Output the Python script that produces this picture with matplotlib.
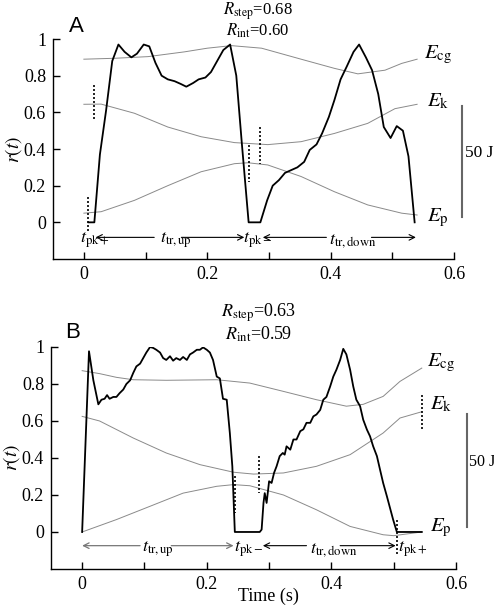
import matplotlib
matplotlib.use("Agg")
import matplotlib.pyplot as plt
from matplotlib.lines import Line2D

plt.rcParams['font.family'] = ['Liberation Serif', 'DejaVu Serif']
plt.rcParams['mathtext.fontset'] = 'stix'

# ---- panel A data ----
tA = [0.0076, 0.017, 0.026, 0.036, 0.046, 0.056, 0.066, 0.077, 0.086, 0.097, 0.106,
      0.116, 0.126, 0.136, 0.147, 0.157, 0.166, 0.177, 0.186, 0.197, 0.206, 0.216,
      0.226, 0.237, 0.247, 0.256, 0.267, 0.286, 0.297, 0.306, 0.316, 0.326, 0.336,
      0.346, 0.357, 0.366, 0.377, 0.386, 0.397, 0.406, 0.416, 0.426, 0.437, 0.446,
      0.457, 0.467, 0.477, 0.486, 0.497, 0.507, 0.517, 0.526, 0.536]
rA = [0, 0, 0.37, 0.61, 0.88, 0.97, 0.93, 0.90, 0.92, 0.97, 0.96,
      0.87, 0.80, 0.78, 0.77, 0.755, 0.74, 0.76, 0.78, 0.79, 0.82, 0.88,
      0.94, 0.97, 0.80, 0.43, 0, 0, 0.12, 0.20, 0.23, 0.27, 0.285,
      0.30, 0.33, 0.395, 0.425, 0.485, 0.575, 0.667, 0.78, 0.85, 0.93, 0.97,
      0.90, 0.83, 0.70, 0.52, 0.46, 0.525, 0.50, 0.36, 0]

ecgA_t = [0, 0.05, 0.104, 0.163, 0.2, 0.239, 0.288, 0.352, 0.406, 0.444, 0.488, 0.515, 0.54]
ecgA = [0.89, 0.895, 0.904, 0.93, 0.95, 0.964, 0.95, 0.89, 0.84, 0.81, 0.83, 0.867, 0.89]
ekA_t = [0, 0.028, 0.082, 0.136, 0.19, 0.244, 0.298, 0.352, 0.406, 0.46, 0.504, 0.54]
ekA = [0.644, 0.645, 0.595, 0.52, 0.467, 0.435, 0.424, 0.44, 0.485, 0.54, 0.62, 0.644]
epA_t = [0, 0.028, 0.082, 0.136, 0.19, 0.244, 0.266, 0.298, 0.352, 0.406, 0.46, 0.515, 0.54]
epA = [0.05, 0.058, 0.12, 0.2, 0.276, 0.32, 0.325, 0.313, 0.25, 0.167, 0.095, 0.05, 0.04]

dotsA = [(0.0065, 0.14, -0.05), (0.017, 0.75, 0.56), (0.267, 0.42, 0.22), (0.286, 0.52, 0.32)]

# ---- panel B data ----
tB = [0, 0.011, 0.018, 0.026, 0.031, 0.036, 0.04, 0.044, 0.05, 0.055, 0.06, 0.066,
      0.071, 0.077, 0.082, 0.087, 0.093, 0.098, 0.103, 0.109, 0.114, 0.119, 0.125,
      0.13, 0.135, 0.141, 0.146, 0.151, 0.157, 0.162, 0.168, 0.173, 0.178, 0.184,
      0.189, 0.194, 0.2, 0.205, 0.21, 0.216, 0.221, 0.226, 0.232, 0.237, 0.241,
      0.245, 0.285, 0.288, 0.291, 0.293, 0.296, 0.3, 0.304, 0.308, 0.312, 0.317,
      0.322, 0.325, 0.328, 0.334, 0.339, 0.344, 0.35, 0.355, 0.36, 0.366, 0.371,
      0.376, 0.382, 0.387, 0.392, 0.398, 0.403, 0.408, 0.414, 0.419, 0.424, 0.43,
      0.435, 0.44, 0.446, 0.451, 0.457, 0.462, 0.467, 0.473, 0.478, 0.483, 0.489,
      0.494, 0.499, 0.505, 0.545]
rB = [0, 0.977, 0.82, 0.69, 0.715, 0.72, 0.74, 0.72, 0.73, 0.73, 0.75, 0.77,
      0.80, 0.82, 0.86, 0.895, 0.91, 0.94, 0.97, 1.0, 0.995, 0.985, 0.97,
      0.94, 0.93, 0.95, 0.926, 0.94, 0.93, 0.946, 0.93, 0.96, 0.97, 0.985,
      0.985, 0.998, 0.985, 0.97, 0.93, 0.84, 0.83, 0.72, 0.715, 0.535, 0.355,
      0, 0, 0.013, 0.157, 0.21, 0.157, 0.274, 0.265, 0.32, 0.355, 0.41,
      0.427, 0.418, 0.463, 0.445, 0.5, 0.5, 0.545, 0.555, 0.59, 0.59, 0.625,
      0.635, 0.66, 0.715, 0.73, 0.787, 0.84, 0.877, 0.93, 0.99, 0.96, 0.877,
      0.787, 0.715, 0.68, 0.607, 0.553, 0.517, 0.463, 0.41, 0.337, 0.265, 0.193,
      0.13, 0.067, 0, 0]

ecgB_t = [0, 0.028, 0.055, 0.082, 0.135, 0.216, 0.269, 0.323, 0.376, 0.424, 0.451, 0.483, 0.51, 0.545]
ecgB = [0.872, 0.856, 0.836, 0.823, 0.82, 0.823, 0.805, 0.76, 0.715, 0.68, 0.69, 0.733, 0.814, 0.886]
ekB_t = [0, 0.028, 0.082, 0.135, 0.189, 0.243, 0.275, 0.323, 0.376, 0.43, 0.483, 0.51, 0.545]
ekB = [0.625, 0.6, 0.508, 0.427, 0.364, 0.323, 0.313, 0.319, 0.355, 0.418, 0.535, 0.616, 0.65]
epB_t = [0, 0.055, 0.109, 0.162, 0.216, 0.243, 0.269, 0.323, 0.376, 0.43, 0.483, 0.5, 0.545]
epB = [0, 0.067, 0.139, 0.21, 0.247, 0.256, 0.25, 0.2, 0.12, 0.03, -0.015, -0.02, 0]

dotsB = [(0.246, 0.3, 0.1), (0.284, 0.41, 0.21), (0.505, 0.067, -0.12), (0.545, 0.74, 0.55)]

fig = plt.figure(figsize=(4.94, 6.06), dpi=100)
axA = fig.add_axes([0.1073, 0.5726, 0.812, 0.363])
axB = fig.add_axes([0.1032, 0.0611, 0.820, 0.3663])

gray = '#8a8a8a'


def setup(ax):
    ax.set_xlim(-0.05, 0.6)
    ax.set_ylim(-0.2, 1.0)
    for s in ['top', 'right']:
        ax.spines[s].set_visible(False)
    ax.spines['left'].set_linewidth(1.0)
    ax.spines['bottom'].set_linewidth(1.0)
    ax.set_xticks([0, 0.1, 0.2, 0.3, 0.4, 0.5, 0.6])
    ax.set_xticklabels(['0', '', '0.2', '', '0.4', '', '0.6'])
    ax.set_yticks([0, 0.2, 0.4, 0.6, 0.8, 1.0])
    ax.set_yticklabels(['0', '0.2', '0.4', '0.6', '0.8', '1'])
    ax.tick_params(direction='in', length=5, width=1.0, labelsize=13, pad=5)
    ax.set_ylabel(r'$r(t)$', fontsize=14, labelpad=0)


for ax in (axA, axB):
    setup(ax)

# panel A
axA.plot(ecgA_t, ecgA, color=gray, lw=0.7)
axA.plot(ekA_t, ekA, color=gray, lw=0.7)
axA.plot(epA_t, epA, color=gray, lw=0.7)
axA.plot(tA, rA, color='black', lw=1.3)
for x, y0, y1 in dotsA:
    axA.plot([x, x], [y0, y1], color='black', lw=1.2, ls=(0, (1.2, 1.2)), clip_on=False)

arr = dict(arrowstyle='->', lw=0.8, color='black', shrinkA=0, shrinkB=0)
yA = -0.082
axA.annotate('', xy=(0.019, yA), xytext=(0.114, yA), arrowprops=arr)
axA.annotate('', xy=(0.26, yA), xytext=(0.158, yA), arrowprops=arr)
axA.annotate('', xy=(0.29, yA), xytext=(0.393, yA), arrowprops=arr)
axA.annotate('', xy=(0.538, yA), xytext=(0.466, yA), arrowprops=arr)
axA.text(0.017, -0.1, r'$t_{\mathrm{pk+}}$', ha='center', va='center', fontsize=13)
axA.text(0.15, -0.1, r'$t_{\mathrm{tr,up}}$', ha='center', va='center', fontsize=13)
axA.text(0.282, -0.1, r'$t_{\mathrm{pk}-}$', ha='center', va='center', fontsize=13)
axA.text(0.436, -0.1, r'$t_{\mathrm{tr,down}}$', ha='center', va='center', fontsize=13)

axA.text(0.551, 0.914, r'$E_{\mathrm{cg}}$', ha='left', va='center', fontsize=15, clip_on=False)
axA.text(0.556, 0.657, r'$E_{\mathrm{k}}$', ha='left', va='center', fontsize=15, clip_on=False)
axA.text(0.556, 0.023, r'$E_{\mathrm{p}}$', ha='left', va='center', fontsize=15, clip_on=False)

axA.text(0.282, 1.152, r'$R_{\mathrm{step}}$=0.68', ha='center', va='center', fontsize=12, clip_on=False)
axA.text(0.282, 1.043, r'$R_{\mathrm{int}}$=0.60', ha='center', va='center', fontsize=12, clip_on=False)
axA.text(-0.012, 1.067, 'A', ha='center', va='center', fontsize=16,
         family='Liberation Sans', clip_on=False)

# panel B
axB.plot(ecgB_t, ecgB, color=gray, lw=0.7)
axB.plot(ekB_t, ekB, color=gray, lw=0.7)
axB.plot(epB_t, epB, color=gray, lw=0.7)
axB.plot(tB, rB, color='black', lw=1.3)
for x, y0, y1 in dotsB:
    axB.plot([x, x], [y0, y1], color='black', lw=1.2, ls=(0, (1.2, 1.2)), clip_on=False)

arrg = dict(arrowstyle='->', lw=0.9, color='#777777', shrinkA=0, shrinkB=0)
yB = -0.074
axB.annotate('', xy=(0.0, yB), xytext=(0.093, yB), arrowprops=arrg)
axB.annotate('', xy=(0.243, yB), xytext=(0.143, yB), arrowprops=arrg)
axB.annotate('', xy=(0.29, yB), xytext=(0.36, yB), arrowprops=arr)
axB.annotate('', xy=(0.503, yB), xytext=(0.414, yB), arrowprops=arr)
axB.text(0.122, -0.095, r'$t_{\mathrm{tr,up}}$', ha='center', va='center', fontsize=13)
axB.text(0.267, -0.095, r'$t_{\mathrm{pk}-}$', ha='center', va='center', fontsize=13)
axB.text(0.403, -0.095, r'$t_{\mathrm{tr,down}}$', ha='center', va='center', fontsize=13)
axB.text(0.53, -0.095, r'$t_{\mathrm{pk+}}$', ha='center', va='center', fontsize=13)

axB.text(0.553, 0.913, r'$E_{\mathrm{cg}}$', ha='left', va='center', fontsize=15, clip_on=False)
axB.text(0.558, 0.69, r'$E_{\mathrm{k}}$', ha='left', va='center', fontsize=15, clip_on=False)
axB.text(0.558, 0.02, r'$E_{\mathrm{p}}$', ha='left', va='center', fontsize=15, clip_on=False)

axB.text(0.283, 1.184, r'$R_{\mathrm{step}}$=0.63', ha='center', va='center', fontsize=13, clip_on=False)
axB.text(0.283, 1.067, r'$R_{\mathrm{int}}$=0.59', ha='center', va='center', fontsize=13, clip_on=False)
axB.text(-0.016, 1.076, 'B', ha='center', va='center', fontsize=16,
         family='Liberation Sans', clip_on=False)
fig.text(268 / 494, 0.002, 'Time (s)', ha='center', va='bottom', fontsize=13)

# 50 J scale bars
fig.add_artist(Line2D([462 / 494, 462 / 494], [1 - 106 / 606, 1 - 217 / 606],
                      color='#666666', lw=1.5))
fig.text(465 / 494, 1 - 153 / 606, '50 J', ha='left', va='center', fontsize=12.5)
fig.add_artist(Line2D([467 / 494, 467 / 494], [1 - 414 / 606, 1 - 527 / 606],
                      color='#666666', lw=1.5))
fig.text(468.5 / 494, 1 - 462 / 606, '50 J', ha='left', va='center', fontsize=11.5)

fig.savefig('out.png', dpi=100)
